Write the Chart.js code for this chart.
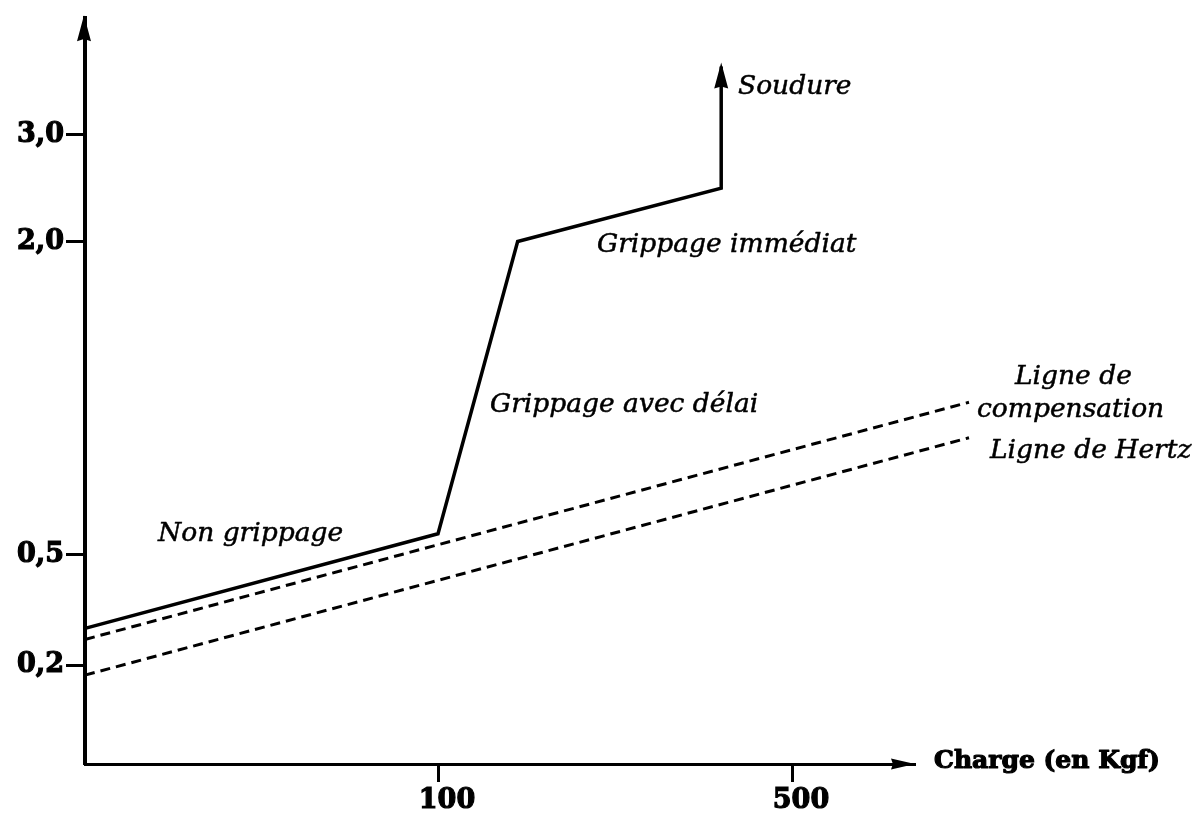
<!DOCTYPE html>
<html>
<head>
<meta charset="utf-8">
<script src="https://cdn.jsdelivr.net/npm/chart.js@4.4.1/dist/chart.umd.min.js"></script>
<style>
html,body{margin:0;padding:0;background:#fff}
canvas{display:block}
</style>
</head>
<body>
<canvas id="grippage" width="1201" height="814"></canvas>
<script>
// graduations
var xTickValues = [100, 500]
var xTickLabels = ['100', '500']
var yTickValues = [0.2, 0.5, 2.0, 3.0]
var yTickLabels = ['0,2', '0,5', '2,0', '3,0']

// courbe de grippage, terminée par la flèche "Soudure"
var grippageX = [0, 100, 190, 420, 420]
var grippageY = [0.3, 0.6, 2.0, 2.5, 3.64]
// ligne de compensation
var compensationX = [0, 700]
var compensationY = [0.27, 1.23]
// ligne de Hertz
var hertzX = [0, 700]
var hertzY = [0.18, 1.06]

// les axes ne sont pas linéaires : points de cassure (valeur -> unité d'axe)
var xBreaks = [[0, 0], [100, 353], [500, 707]]
var yBreaks = [[0, 0], [0.2, 99], [0.5, 210], [2.0, 524], [3.0, 631]]

function piecewise(breaks, v){
    var i = 1
    while(i < breaks.length - 1 && v > breaks[i][0]) i++
    var a = breaks[i-1], b = breaks[i]
    return a[1] + (v - a[0]) * (b[1] - a[1]) / (b[0] - a[0])
}
function mapX(v){ return piecewise(xBreaks, v) }
function mapY(v){ return piecewise(yBreaks, v) }

function points(xs, ys){
    return xs.map(function(x, i){ return {x: mapX(x), y: mapY(ys[i])} })
}

// textes posés sur le graphique (en unités d'axe)
var notes = [
    {text: 'Soudure', x: 653, y: 679},
    {text: 'Grippage immédiat', x: 512, y: 520},
    {text: 'Grippage avec délai', x: 405, y: 360},
    {text: 'Ligne de', x: 930, y: 388},
    {text: 'compensation', x: 892, y: 355},
    {text: 'Ligne de Hertz', x: 905, y: 314},
    {text: 'Non grippage', x: 73, y: 231}
]

var INK = '#000'
var serif = '"DejaVu Serif", "Liberation Serif", serif'

function arrowHead(ctx, x, y, dir, len, half){
    ctx.save()
    ctx.translate(x, y)
    ctx.rotate(dir)
    ctx.beginPath()
    ctx.moveTo(0, 0)
    ctx.lineTo(-len, -half)
    ctx.lineTo(-len * 0.92, 0)
    ctx.lineTo(-len, half)
    ctx.closePath()
    ctx.fillStyle = INK
    ctx.fill()
    ctx.restore()
}

// texte un peu plus gras que la fonte de base
function heavyText(ctx, text, x, y, stroke){
    ctx.lineWidth = stroke
    ctx.strokeText(text, x, y)
    ctx.fillText(text, x, y)
}

var decorations = {
    id: 'decorations',
    afterDraw: function(chart){
        var ctx = chart.ctx
        var area = chart.chartArea
        var xs = chart.scales.x, ys = chart.scales.y

        // flèches des axes
        arrowHead(ctx, area.left - 1, area.top - 3, -Math.PI / 2, 26, 7)
        arrowHead(ctx, area.right, area.bottom, 0, 24, 5.5)

        // flèche "Soudure" au bout de la courbe
        var meta = chart.getDatasetMeta(0)
        var last = meta.data[meta.data.length - 1]
        arrowHead(ctx, last.x, last.y - 4, -Math.PI / 2, 26, 7)

        ctx.save()
        ctx.fillStyle = INK
        ctx.strokeStyle = INK
        ctx.lineJoin = 'round'
        ctx.textBaseline = 'middle'
        ctx.textAlign = 'left'
        ctx.font = 'italic 26.5px ' + serif
        notes.forEach(function(n){
            heavyText(ctx, n.text, xs.getPixelForValue(n.x), ys.getPixelForValue(n.y), 0.5)
        })
        ctx.font = 'bold 25px ' + serif
        heavyText(ctx, 'Charge (en Kgf)', area.right + 19, area.bottom - 3, 1.2)
        ctx.restore()
    }
}

var tickFont = {family: serif, size: 27, weight: 'bold'}

var chart = new Chart(document.getElementById('grippage'), {
    type: 'line',
    data: {
        datasets: [
            {data: points(grippageX, grippageY), borderColor: INK, borderWidth: 3.5},
            {data: points(compensationX, compensationY), borderColor: INK, borderWidth: 3, borderDash: [10, 6]},
            {data: points(hertzX, hertzY), borderColor: INK, borderWidth: 3, borderDash: [10, 6]}
        ]
    },
    options: {
        responsive: false,
        animation: false,
        devicePixelRatio: 1,
        layout: {padding: {left: 0, top: 16, right: 286, bottom: 0}},
        datasets: {line: {pointRadius: 0, tension: 0, clip: false, fill: false}},
        plugins: {
            legend: {display: false},
            tooltip: {enabled: false}
        },
        scales: {
            x: {
                type: 'linear', min: 0, max: 830,
                afterFit: function(s){ s.height = 50 },
                afterBuildTicks: function(s){ s.ticks = xTickValues.map(function(v){ return {value: mapX(v)} }) },
                ticks: {
                    autoSkip: false, maxRotation: 0, padding: 3, labelOffset: 9, color: INK,
                    textStrokeColor: INK, textStrokeWidth: 1.2,
                    font: tickFont,
                    callback: function(v, i){ return xTickLabels[i] }
                },
                grid: {drawOnChartArea: false, drawTicks: true, tickLength: 18, tickWidth: 3, tickColor: INK},
                border: {display: true, color: INK, width: 3}
            },
            y: {
                type: 'linear', min: 0, max: 748,
                afterFit: function(s){ s.width = 85 },
                afterBuildTicks: function(s){ s.ticks = yTickValues.map(function(v){ return {value: mapY(v)} }) },
                ticks: {
                    autoSkip: false, padding: 2, color: INK,
                    textStrokeColor: INK, textStrokeWidth: 1.2,
                    font: tickFont,
                    callback: function(v, i){ return yTickLabels[i] }
                },
                grid: {drawOnChartArea: false, drawTicks: true, tickLength: 19, tickWidth: 3, tickColor: INK},
                border: {display: true, color: INK, width: 4}
            }
        }
    },
    plugins: [decorations]
})
</script>
</body>
</html>
